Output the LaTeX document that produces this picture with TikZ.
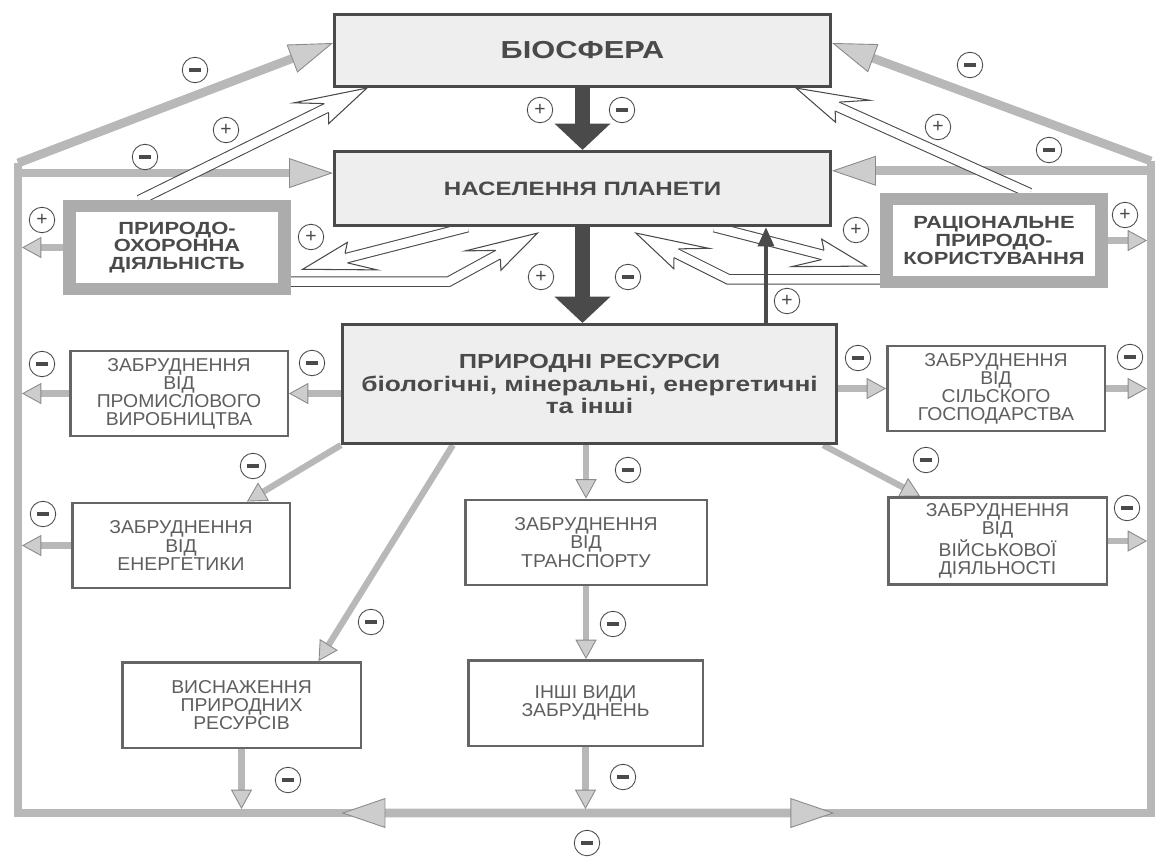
\documentclass[tikz,border=0pt]{standalone}
\usepackage{fontspec}
\setmainfont{Liberation Sans}
\newfontfamily\widefont{Liberation Sans}[FakeStretch=1.25]
\newfontfamily\boxfont{Liberation Sans}[FakeStretch=1.04]
\usetikzlibrary{arrows.meta,calc,backgrounds}

\definecolor{ink}{HTML}{4A4A4A}
\definecolor{boxink}{HTML}{5E5E5E}
\definecolor{band}{HTML}{B8B8B8}
\definecolor{bandedge}{HTML}{8A8A8A}

\newcommand{\mn}{\rule{6.5pt}{2.8pt}}
\newcommand{\pl}{\fontsize{11}{11}\selectfont +}

\tikzset{
  mainbox/.style={draw=ink, line width=1.8pt, fill=gray!13, text=ink, align=center},
  actbox/.style={draw=gray!65, line width=7pt, fill=white, text=ink, align=center,
    minimum width=4.3cm, minimum height=1.65cm, font=\widefont\bfseries\fontsize{10}{10}\selectfont},
  polbox/.style={draw=ink!85, line width=1.4pt, fill=white, text=boxink, align=center,
    minimum height=1.71cm, font=\boxfont\fontsize{10.6}{10.3}\selectfont},
  sgn/.style={circle, draw=ink, line width=0.5pt, fill=white, minimum size=14.5pt, inner sep=0pt, text=ink},
  gline/.style={draw=band, line width=4.5pt},
  gflow/.style={draw=band, line width=3.6pt,
    -{Triangle[width=12pt,length=11pt,line width=0.5pt,fill=band!70,color=bandedge]}},
  gbig/.style={draw=band, line width=5pt,
    -{Triangle[width=17pt,length=25pt,line width=0.5pt,fill=band!70,color=bandedge]}},
  dflow/.style={draw=ink, line width=9pt, -{Triangle[width=31pt,length=15pt]}},
  dthin/.style={draw=ink, line width=2.2pt, -{Triangle[width=9pt,length=11pt]}},
  boltband/.style={draw=ink, line width=0.6pt, double=white, double distance=4.9pt, shorten >=25.6pt},
  mirror/.style={yscale=-1},
  bolthead/.pic={
    \draw[ink, line width=0.6pt, fill=white, line join=miter]
      (-45,-4.85) -- (-72,-19) -- (0,0) -- (-50,15) -- (-45,4.85);
  }
}

\begin{document}
\begin{tikzpicture}[x=0.02cm, y=-0.02cm]
    \useasboundingbox (0,0) rectangle (1165,856);

    % Main boxes
    \node[mainbox, minimum width=9.92cm, minimum height=1.44cm,
      font=\widefont\bfseries\fontsize{14}{14}\selectfont] (bio) at (582.5,50.5) {БІОСФЕРА};
    \node[mainbox, minimum width=9.92cm, minimum height=1.48cm,
      font=\widefont\bfseries\fontsize{11}{11}\selectfont] (pop) at (582.5,188.5) {НАСЕЛЕННЯ ПЛАНЕТИ};
    \node[mainbox, minimum width=9.88cm, minimum height=2.38cm,
      font=\widefont\bfseries\fontsize{12}{12.8}\selectfont] (res) at (589.5,384)
      {{\fontsize{11.6}{12.8}\selectfont ПРИРОДНІ РЕСУРСИ}\\біологічні, мінеральні, енергетичні\\та інші};

    % Activity boxes
    \node[actbox] (prot) at (177,247.5) {ПРИРОДО-\\ОХОРОННА\\ДІЯЛЬНІСТЬ};
    \node[actbox] (rat) at (994,240.5) {РАЦІОНАЛЬНЕ\\ПРИРОДО-\\КОРИСТУВАННЯ};

    % Pollution boxes
    \node[polbox, minimum width=4.35cm] (ind) at (179,393.5) {ЗАБРУДНЕННЯ\\ВІД\\ПРОМИСЛОВОГО\\ВИРОБНИЦТВА};
    \node[polbox, minimum width=4.35cm] (agr) at (996,388.5) {ЗАБРУДНЕННЯ\\ВІД\\СІЛЬСКОГО\\ГОСПОДАРСТВА};
    \node[polbox, minimum width=4.35cm] (ener) at (181,545.5) {ЗАБРУДНЕННЯ\\ВІД\\ЕНЕРГЕТИКИ};
    \node[polbox, minimum width=4.83cm] (trans) at (586,542.5) {ЗАБРУДНЕННЯ\\ВІД\\ТРАНСПОРТУ};
    \node[polbox, minimum width=4.37cm] (mil) at (997.5,541) {ЗАБРУДНЕННЯ\\ВІД\\ВІЙСЬКОВОЇ\\ДІЯЛЬНОСТІ};
    \node[polbox, minimum width=4.77cm] (depl) at (241.5,705) {ВИСНАЖЕННЯ\\ПРИРОДНИХ\\РЕСУРСІВ};
    \node[polbox, minimum width=4.69cm] (other) at (585.5,703) {ІНШІ ВИДИ\\ЗАБРУДНЕНЬ};

    % Frame
    \coordinate (lt) at (18,163);
    \coordinate (lb) at (18,813);
    \coordinate (rb) at (1151,813);
    \coordinate (rt) at (1151,161);
    \coordinate (bm) at (other.south |- lb);
    \coordinate (lfr) at (22,0);
    \coordinate (rfr) at (1147,0);
    \coordinate (bfr) at (0,809);
    \coordinate (pl) at ($(pop.north west)!0.3!(pop.south west)$);
    \coordinate (pr) at ($(pop.north east)!0.27!(pop.south east)$);
    \coordinate (up) at ($(res.north west)!0.855!(res.north east)$);

    \begin{scope}[on background layer]
    \draw[gline, line join=miter] (lt) -- (lb) -- (rb) -- (rt);
    \draw[gbig] (lt) -- ($(bio.north west)!0.4!(bio.south west)$);
    \draw[gbig] (rt) -- ($(bio.north east)!0.4!(bio.south east)$);
    \draw[gbig] (pl -| lb) -- (pl);
    \draw[gbig] (pr -| rb) -- (pr);
    \draw[gbig] (bm) -- ($(bm)!0.43!(lb)$);
    \draw[gbig] (bm) -- ($(bm)!0.44!(rb)$);

    % Grey arrows
    \draw[gflow] (prot.west) -- (prot.west -| lfr);
    \draw[gflow] (ind.west) -- (ind.west -| lfr);
    \draw[gflow] (ener.west) -- (ener.west -| lfr);
    \draw[gflow] (rat.east) -- (rat.east -| rfr);
    \draw[gflow] (agr.east) -- (agr.east -| rfr);
    \draw[gflow] (mil.east) -- (mil.east -| rfr);
    \draw[gflow] (ind.east -| res.west) -- (ind.east);
    \draw[gflow] (agr.west -| res.east) -- (agr.west);
    \draw[gflow] (res.south west) -- ($(ener.north east)!0.2!(ener.north west)$);
    \draw[gflow] ($(res.south west)!0.97!(res.south east)$) -- ($(mil.north west)!0.15!(mil.north east)$);
    \draw[gflow] ($(res.south west)!0.225!(res.south east)$) -- ($(depl.north west)!0.82!(depl.north east)$);
    \draw[gflow] (trans.north |- res.south) -- (trans.north);
    \draw[gflow] (trans.south) -- (trans.south |- other.north);
    \draw[gflow] (depl.south) -- (depl.south |- bfr);
    \draw[gflow] (other.south) -- (other.south |- bfr);

    % Dark arrows
    \draw[dflow] (bio.south) -- (pop.north);
    \draw[dflow] (pop.south) -- (pop.south |- res.north);

    % Bolts, left
    \coordinate (b1s) at ($(prot.north west)!0.334!(prot.north east)$);
    \coordinate (b1t) at ($(bio.south west)!0.068!(bio.south east)$);
    \draw[boltband] (b1s) -- (b1t);
    \path (b1s) -- (b1t) pic[pos=1, sloped, allow upside down] {bolthead};

    \coordinate (b2s) at ($(pop.south west)!0.27!(pop.south east)$);
    \coordinate (b2t) at ($(prot.north east)!0.73!(prot.south east)+(12,0)$);
    \draw[boltband] (b2s) -- (b2t);
    \path (b2s) -- (b2t) pic[pos=1, sloped, allow upside down] {bolthead};

    \coordinate (b3s) at ($(prot.north east)!0.86!(prot.south east)$);
    \coordinate (b3k) at ($(b3s)+(158,0)$);
    \coordinate (b3t) at ($(pop.south west)!0.41!(pop.south east)+(0,6)$);
    \draw[boltband] (b3s) -- (b3k) -- (b3t);
    \path (b3k) -- (b3t) pic[pos=1, sloped, allow upside down] {bolthead};

    % Bolts, right
    \coordinate (b4s) at ($(rat.north west)!0.657!(rat.north east)$);
    \coordinate (b4t) at ($(bio.south west)!0.928!(bio.south east)$);
    \draw[boltband] (b4s) -- (b4t);
    \path (b4s) -- (b4t) pic[pos=1, sloped, allow upside down, mirror] {bolthead};

    \coordinate (b5s) at ($(pop.south west)!0.764!(pop.south east)$);
    \coordinate (b5t) at ($(rat.north west)!0.77!(rat.south west)+(-14,0)$);
    \draw[boltband] (b5s) -- (b5t);
    \path (b5s) -- (b5t) pic[pos=1, sloped, allow upside down, mirror] {bolthead};

    \coordinate (b6s) at ($(rat.north west)!0.91!(rat.south west)$);
    \coordinate (b6k) at ($(b6s)+(-152,0)$);
    \coordinate (b6t) at ($(pop.south west)!0.607!(pop.south east)+(0,6)$);
    \draw[boltband] (b6s) -- (b6k) -- (b6t);
    \path (b6k) -- (b6t) pic[pos=1, sloped, allow upside down, mirror] {bolthead};

    \draw[dthin] (up) -- (up |- pop.south);
    \end{scope}

    % Signs
    \foreach \x/\y [count=\i] in {226/130, 42/220, 311/237, 540/110, 541/277,
        938/127, 1125/215, 856/230, 787/301}
        \node[sgn] (pl\i) at (\x,\y) {\pl};
    \foreach \x/\y [count=\i] in {195/70, 145/157, 622/110, 628/277, 970/65,
        1049/150, 42/364, 312/363, 858/358, 1130/357, 253/466, 628/470, 926/460,
        43/514, 1127/508, 371/622, 613/624, 288/780, 623/777, 587/843}
        \node[sgn] (mn\i) at (\x,\y) {\mn};
\end{tikzpicture}
\end{document}
